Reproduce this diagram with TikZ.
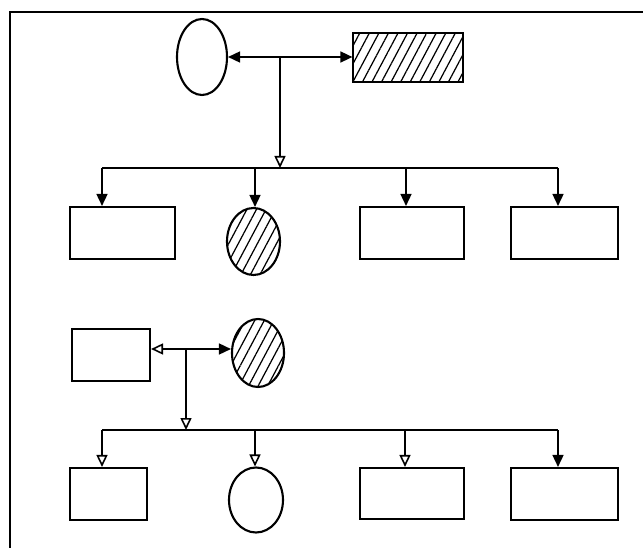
\documentclass[tikz,border=0pt]{standalone}
\usetikzlibrary{arrows.meta,shapes.geometric,patterns.meta}

\begin{document}
\begin{tikzpicture}[x=0.2mm,y=-0.2mm]
\tikzstyle{male} = [rectangle, draw, line width=1.2pt, inner sep=0pt,
minimum width=21mm, minimum height=10.4mm]
\tikzstyle{female} = [ellipse, draw, line width=1.2pt, inner sep=0pt,
minimum width=10.6mm, minimum height=13.4mm]
\tikzstyle{hatch} = [pattern={Lines[angle=62,distance=4.8pt,line width=0.7pt]}]
\tikzstyle{line} = [draw, line width=0.9pt]
\tikzstyle{tip} = [-{Triangle[length=2.4mm,width=2.2mm]}]
\tikzstyle{opentip} = [-{Triangle[open,length=2.4mm,width=2.2mm]}]
\useasboundingbox (0,0) rectangle (643,548);
\draw [line width=1.4pt] (10,548) -- (10,12) -- (643,12);

% row 1
\node [female, minimum width=10mm, minimum height=15.2mm] (mother1) at (202,57) {};
\node [male, hatch, minimum width=22mm, minimum height=9.8mm] (father1) at (408,57.5) {};
\coordinate (mid1) at (280,57);
\coordinate (fork1) at (280,168);
% row 2
\node [male] (son1) at (122.5,233) {};
\node [female, hatch] (dau1) at (253.5,241.5) {};
\node [male, minimum width=20.8mm] (son2) at (412,233) {};
\node [male, minimum width=21.4mm] (son3) at (564.5,233) {};
\coordinate (c1) at (102,168);
\coordinate (c2) at (255,168);
\coordinate (c3) at (406,168);
\coordinate (c4) at (558,168);

% row 3
\node [male, minimum width=15.6mm] (father2) at (111,355) {};
\node [female, hatch, minimum width=10.4mm, minimum height=13.6mm] (mother2) at (258,353) {};
\coordinate (mid2) at (186,349);
\coordinate (fork2) at (186,430);
% row 4
\node [male, minimum width=15.4mm] (son4) at (108.5,494) {};
\node [female, minimum width=10.8mm, minimum height=13mm] (dau2) at (256,500) {};
\node [male, minimum width=20.8mm, minimum height=10.2mm] (son5) at (412,493.5) {};
\node [male, minimum width=21.4mm] (son6) at (564.5,494) {};
\coordinate (d1) at (102,430);
\coordinate (d2) at (255,430);
\coordinate (d3) at (405,430);
\coordinate (d4) at (558,430);

\tikzstyle{every path}=[line]
\path [{Triangle[length=2.4mm,width=2.2mm]}-{Triangle[length=2.4mm,width=2.2mm]}]
  (mother1.east) -- (father1.west |- mother1.east);
\path [opentip] (mid1) -- (fork1);
\path (c1) -- (c4);
\path [tip] (c1) -- (c1 |- son1.north);
\path [tip] (c2) -- (c2 |- dau1.north);
\path [tip] (c3) -- (c3 |- son2.north);
\path [tip] (c4) -- (c4 |- son3.north);

\path [{Triangle[open,length=2.4mm,width=2.2mm]}-{Triangle[length=2.4mm,width=2.2mm]}]
  (father2.east |- mid2) -- (mother2.west |- mid2);
\path [opentip] (mid2) -- (fork2);
\path (d1) -- (d4);
\path [opentip] (d1) -- (d1 |- son4.north);
\path [opentip] (d2) -- (d2 |- dau2.north);
\path [opentip] (d3) -- (d3 |- son5.north);
\path [tip] (d4) -- (d4 |- son6.north);

\end{tikzpicture}
\end{document}
